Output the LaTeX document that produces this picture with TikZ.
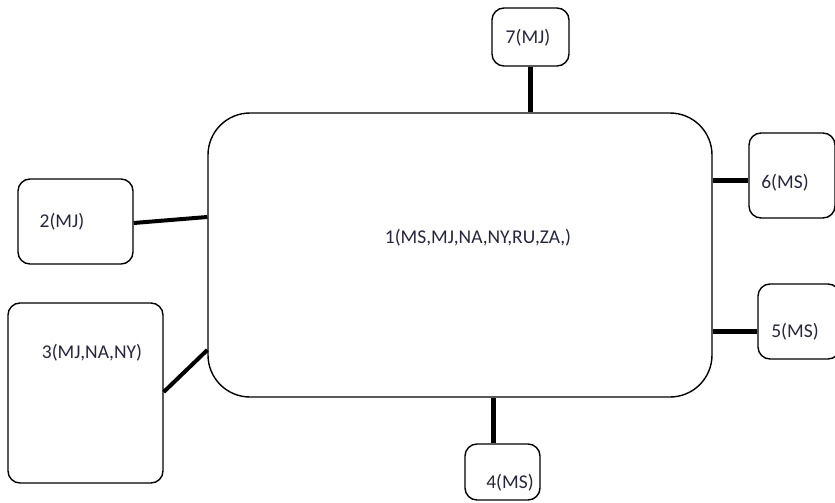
\documentclass[tikz,border=0pt]{standalone}
\usepackage{fontspec}
\setmainfont{Carlito}
\usepackage{xcolor}
\usetikzlibrary{positioning,calc}
\definecolor{inkblue}{RGB}{38,38,62}

\begin{document}
\begin{tikzpicture}[x=1pt,y=-1pt,
    site/.style={draw,line width=1.4pt,rounded corners=12pt,inner sep=0pt},
    hub/.style={draw,line width=1.4pt,rounded corners=42pt,inner sep=0pt,
        minimum width=504pt,minimum height=284pt},
    link/.style={line width=5pt},
    tag/.style={text=inkblue,font=\fontsize{19.5}{23}\selectfont}]
\useasboundingbox (0,0) rectangle (835,503);

\node[hub] (main) at (460,255) {};

% outer sites: name/x/y/width/height
\foreach \n/\x/\y/\w/\h in {
    n7/530.5/37/77/58, n6/792/175.5/86/85, n5/799/321.5/82/75,
    n4/502.5/472/75/56, n2/75.5/221.5/115/85, n3/85.5/393/155/180
} {
    \node[site,minimum width=\w pt,minimum height=\h pt] (\n) at (\x,\y) {};
}

% labels
\foreach \x/\y/\txt in {
    478/238/{1(MS,MJ,NA,NY,RU,ZA,)}, 62/222/{2(MJ)}, 92/353/{3(MJ,NA,NY)},
    510/483/{4(MS)}, 795/332/{5(MS)}, 785/183/{6(MS)}, 528/38/{7(MJ)}
} {
    \node[tag] at (\x,\y) {\txt};
}

\draw[link] (n7.south) -- (n7.south |- main.north);
\draw[link] ($(n6.west)+(0,4.5)$) coordinate (e6) -- (main.east |- e6);
\draw[link] ($(n5.west)+(0,9.5)$) coordinate (e5) -- (main.east |- e5);
\draw[link] ($(n4.north)+(-9.5,0)$) coordinate (e4) -- (e4 |- main.south);
\draw[line width=4pt] ($(n2.east)+(0,1.5)$) -- ($(main.west)+(0,-38)$);
\draw[line width=4pt] ($(n3.east)+(0,-1)$) -- ($(main.west)+(0,95)$);
\end{tikzpicture}
\end{document}
